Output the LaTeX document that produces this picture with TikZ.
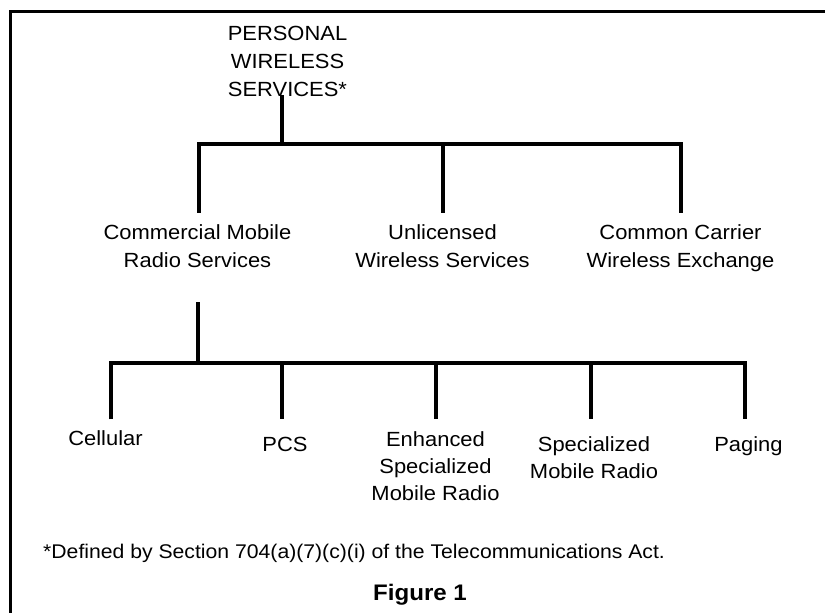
\documentclass[tikz,border=0pt]{standalone}
\usepackage{fontspec}
\setmainfont{Liberation Sans}[FakeStretch=1.07]
\begin{document}
\begin{tikzpicture}[x=1pt,y=-1pt,
  tree/.style={line width=4pt, line join=miter, line cap=butt},
  frame/.style={line width=3pt, line join=miter},
  lbl/.style={inner sep=0pt, outer sep=0pt, align=center, anchor=north,
    font=\fontsize{20.5}{28}\selectfont},
  lblb/.style={lbl, font=\fontsize{20.5}{27}\selectfont},
  note/.style={inner sep=0pt, anchor=base west, font=\fontsize{19.8}{24}\selectfont},
  caption/.style={inner sep=0pt, anchor=base, font=\fontsize{22.5}{26}\selectfont\bfseries}]
\useasboundingbox (0,0) rectangle (825,613);
\fill[white] (0,0) rectangle (825,613);
% frame (cropped)
\coordinate (fTR) at (826,11);
\coordinate (fTL) at (10,11);
\coordinate (fBL) at (10,614);
\draw[frame] (fTR) -- (fTL) -- (fBL);

% labels
\node[lbl] (pws) at (287.5,26) {PERSONAL\\WIRELESS\\SERVICES*};
\node[lbl] (cmrs) at (197.5,225) {Commercial Mobile\\Radio Services};
\node[lbl] (uws) at (442.5,225) {Unlicensed\\Wireless Services};
\node[lbl] (ccwe) at (680.5,225) {Common Carrier\\Wireless Exchange};

\node[lblb] (cell) at (105.5,431) {Cellular};
\node[lblb] (pcs) at (285,437) {PCS};
\node[lblb] (esmr) at (435.5,432) {Enhanced\\Specialized\\Mobile Radio};
\node[lblb] (smr) at (594,437) {Specialized\\Mobile Radio};
\node[lblb] (pag) at (748.5,437) {Paging};

\node[note] (fn) at (43,558) {*Defined by Section 704(a)(7)(c)(i) of the Telecommunications Act.};
\node[caption] (fig) at (420,600.7) {Figure 1};

% upper tree
\coordinate (t0) at (282,95);
\coordinate (tj) at (282,143.7);
\coordinate (h1) at (199,143.7);
\coordinate (h2) at (443.3,143.7);
\coordinate (h3) at (680.7,143.7);
\coordinate (e1) at (199,212.5);
\coordinate (e2) at (443.3,212.5);
\coordinate (e3) at (680.7,212.5);
\draw[tree] (t0) -- (tj);
\draw[tree] (e1) -- (h1) -- (h3) -- (e3);
\draw[tree] (h2) -- (e2);

% lower tree
\coordinate (m0) at (198,302.3);
\coordinate (mj) at (198,362.7);
\coordinate (g1) at (111.3,362.7);
\coordinate (g2) at (282,362.7);
\coordinate (g3) at (435.7,362.7);
\coordinate (g4) at (590.7,362.7);
\coordinate (g5) at (745.3,362.7);
\coordinate (k1) at (111.3,419.3);
\coordinate (k2) at (282,419.3);
\coordinate (k3) at (435.7,419.3);
\coordinate (k4) at (590.7,419.3);
\coordinate (k5) at (745.3,419.3);
\draw[tree] (m0) -- (mj);
\draw[tree] (k1) -- (g1) -- (g5) -- (k5);
\draw[tree] (g2) -- (k2);
\draw[tree] (g3) -- (k3);
\draw[tree] (g4) -- (k4);
\end{tikzpicture}
\end{document}
